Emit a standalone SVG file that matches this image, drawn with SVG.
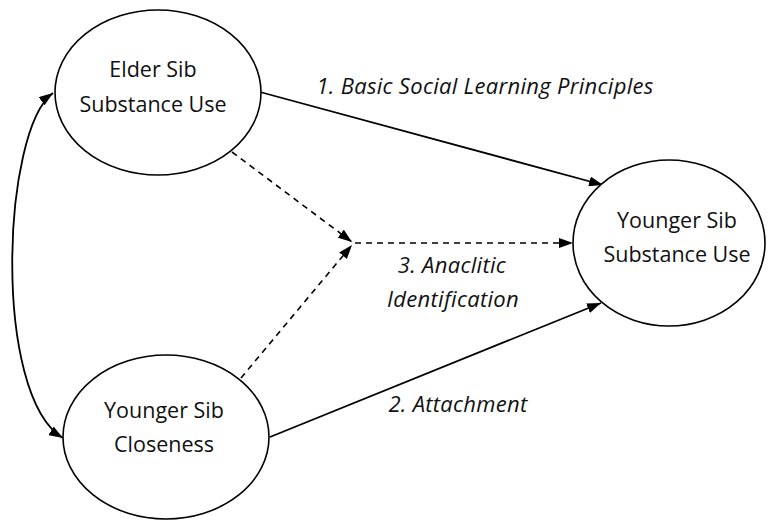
<svg xmlns="http://www.w3.org/2000/svg" width="768" height="520" viewBox="0 0 768 520">
  <style>
    .node ellipse { fill: #ffffff; stroke: #000000; stroke-width: 1.6; }
    .node text { font-family: "Open Sans", "Liberation Sans", sans-serif; font-size: 21.5px; fill: #111111; text-anchor: middle; }
    .edge { fill: none; stroke: #000000; stroke-width: 1.8; }
    .dashed { stroke-dasharray: 6 5; stroke-width: 1.6; }
    .label { font-family: "Open Sans", "Liberation Sans", sans-serif; font-size: 22px; letter-spacing: 0.3px; font-style: italic; fill: #111111; text-anchor: middle; }
  </style>
  <defs>
    <marker id="arrow" viewBox="0 0 14 10" refX="14" refY="5" markerWidth="14" markerHeight="10" markerUnits="userSpaceOnUse" orient="auto-start-reverse">
      <path d="M0,0 L14,5 L0,10 Z" fill="#000000"/>
    </marker>
  </defs>

  <rect width="768" height="520" fill="#ffffff"/>

  <g id="connectors">
    <!-- correlation between the two predictors -->
    <path class="edge" d="M53,93 C2,130 -8,395 63,438" marker-start="url(#arrow)" marker-end="url(#arrow)"/>
    <!-- 1. basic social learning -->
    <line class="edge" x1="260" y1="92" x2="603" y2="185" marker-end="url(#arrow)"/>
    <!-- 2. attachment -->
    <line class="edge" x1="270" y1="437" x2="601" y2="303" marker-end="url(#arrow)"/>
    <!-- 3. anaclitic identification (interaction) -->
    <line class="edge dashed" x1="232" y1="152" x2="352" y2="242" marker-end="url(#arrow)"/>
    <line class="edge dashed" x1="241" y1="378" x2="352" y2="245" marker-end="url(#arrow)"/>
    <line class="edge dashed" x1="355" y1="243" x2="573" y2="243" marker-end="url(#arrow)"/>

    <text class="label" x="485" y="94">1. Basic Social Learning Principles</text>
    <text class="label" x="458" y="412">2. Attachment</text>
    <text class="label" x="452" y="273">3. Anaclitic</text>
    <text class="label" x="453" y="307">Identification</text>
  </g>

  <g id="elder-use" class="node">
    <ellipse cx="158" cy="92.5" rx="103" ry="82.5"/>
    <text x="153" y="77">Elder Sib</text>
    <text x="153" y="112">Substance Use</text>
  </g>

  <g id="younger-closeness" class="node">
    <ellipse cx="166" cy="437" rx="103" ry="82"/>
    <text x="164" y="418">Younger Sib</text>
    <text x="164" y="452">Closeness</text>
  </g>

  <g id="younger-use" class="node">
    <ellipse cx="669" cy="243" rx="96" ry="83"/>
    <text x="677" y="228">Younger Sib</text>
    <text x="677" y="262">Substance Use</text>
  </g>
</svg>
